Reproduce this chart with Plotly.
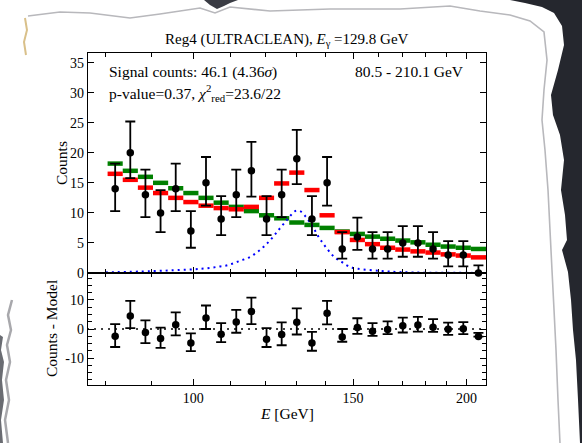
import math
import plotly.graph_objects as go

# ---------------- data ----------------
bin_edges = [80.5, 83.65, 86.92, 90.32, 93.86, 97.53, 101.35, 105.31, 109.43, 113.71,
             118.16, 122.78, 127.58, 132.57, 137.76, 143.15, 148.75, 154.57, 160.62,
             166.90, 173.43, 180.21, 187.26, 194.58, 202.19, 210.1]
counts = [14, 20, 13, 10, 14, 7, 15, 9, 13, 17, 9, 13, 19, 9, 15, 4, 6, 4, 4, 5, 5, 4, 3, 3, 0]
err_up = [4.2, 5.2, 4.2, 3.8, 4.2, 3.3, 4.3, 3.8, 4.2, 4.8, 3.8, 4.2, 4.8, 3.8, 4.3,
          2.8, 3.2, 2.8, 2.8, 2.8, 2.8, 2.8, 2.3, 2.3, 1.26]
err_dn = [3.7, 4.2, 3.7, 3.2, 3.7, 2.8, 3.8, 2.7, 3.7, 4.3, 2.7, 3.7, 4.2, 2.7, 3.8,
          1.6, 2.15, 1.6, 1.6, 2.3, 2.3, 1.6, 1.9, 1.9, 0.0]
model_bkg = [18.2, 17.0, 16.0, 15.0, 14.1, 13.3, 12.5, 11.7, 11.0, 10.3, 9.6, 9.1, 8.4,
             8.0, 7.5, 6.9, 6.5, 6.05, 5.7, 5.4, 5.1, 4.7, 4.4, 4.2, 4.0]
model_tot = [16.5, 15.5, 14.2, 13.3, 12.5, 11.8, 11.2, 10.8, 10.6, 11.0, 12.5, 14.9, 16.7,
             13.8, 9.6, 6.8, 5.5, 4.8, 4.2, 3.9, 3.6, 3.4, 3.1, 2.9, 2.6]
sig_E = [80.1, 89.8, 96.8, 100.2, 101.9, 103.6, 105.3, 107.1, 108.8, 110.4, 112.2, 113.8,
         115.6, 117.2, 118.8, 120.2, 121.5, 122.9, 124.1, 125.5, 126.8, 128.1, 129.5,
         131.1, 132.8, 134.2, 135.4, 136.5, 137.7, 138.9, 140.3, 141.7, 143.4, 145.3,
         147.3, 149.7, 151.9, 160.5, 168.7, 182.0, 210.0]
sig_counts = [0.1, 0.3, 0.5, 0.6, 0.7, 0.8, 0.93, 1.1, 1.26, 1.54, 1.93, 2.26, 2.7, 3.3,
              3.97, 4.7, 5.4, 6.3, 7.1, 8.0, 8.8, 9.6, 10.3, 10.3, 9.5, 8.6, 7.7, 6.8,
              5.8, 5.0, 4.1, 3.3, 2.5, 1.98, 1.37, 0.88, 0.7, 0.35, 0.15, 0.05, 0.02]
x_major = [100, 150, 200]
x_minor = [80, 90, 110, 120, 130, 140, 160, 170, 180, 190]

title_txt = "Reg4 (ULTRACLEAN), <i>E</i><sub>γ</sub> =129.8 GeV"
sig_txt = "Signal counts: 46.1 (4.36<i>σ</i>)"
pval_txt = "p-value=0.37, <i>χ</i><sup>2</sup><sub>red</sub>=23.6/22"
range_txt = "80.5 - 210.1 GeV"

# ---------------- layout geometry (pixels) ----------------
W, H = 582, 443
L, R, T, B = 88, 486, 53, 385
SPLIT = 273
FONT = "Liberation Serif"
TXT = 15.5
TICK = 14


def px(x):
    return (x - L) / (R - L)


def py(y):
    return (B - y) / (B - T)


centers = [math.sqrt(bin_edges[i] * bin_edges[i + 1]) for i in range(len(counts))]
resid = [c - m for c, m in zip(counts, model_tot)]


def steps(vals):
    xs, ys = [], []
    for i, v in enumerate(vals):
        xs += [bin_edges[i], bin_edges[i + 1], None]
        ys += [v, v, None]
    return xs, ys


fig = go.Figure()

gx, gy = steps(model_bkg)
fig.add_trace(go.Scatter(x=gx, y=gy, mode="lines", line=dict(color="#008000", width=4.5),
                         xaxis="x", yaxis="y", hoverinfo="skip"))
rx, ry = steps(model_tot)
fig.add_trace(go.Scatter(x=rx, y=ry, mode="lines", line=dict(color="#ff0000", width=4.5),
                         xaxis="x", yaxis="y", hoverinfo="skip"))
fig.add_trace(go.Scatter(x=sig_E, y=sig_counts, mode="lines", line_shape="spline",
                         line=dict(color="#0000ff", width=2, dash="2px,4px"),
                         xaxis="x", yaxis="y"))
fig.add_trace(go.Scatter(x=centers, y=counts, mode="markers",
                         marker=dict(color="black", size=7.5),
                         error_y=dict(type="data", array=err_up, arrayminus=err_dn,
                                      color="black", thickness=1.8, width=5),
                         xaxis="x", yaxis="y", cliponaxis=False))

# lower panel
fig.add_trace(go.Scatter(x=[bin_edges[0] * 0.9, bin_edges[-1] * 1.05], y=[0, 0], mode="lines",
                         line=dict(color="black", width=1.5, dash="2px,5px"),
                         xaxis="x2", yaxis="y2"))
fig.add_trace(go.Scatter(x=centers, y=resid, mode="markers",
                         marker=dict(color="black", size=7.5),
                         error_y=dict(type="data", array=err_up, arrayminus=err_dn,
                                      color="black", thickness=1.8, width=5),
                         xaxis="x2", yaxis="y2", cliponaxis=False))

xrange = [math.log10(76.6), math.log10(210.1)]
common_x = dict(type="log", range=xrange, tickvals=x_major, ticktext=[str(v) for v in x_major],
                ticks="inside", ticklen=6, tickwidth=1.2, tickcolor="black",
                minor=dict(tickvals=x_minor, ticks="inside", ticklen=3.5, tickwidth=1.2,
                           tickcolor="black"),
                showline=True, linewidth=1.4, linecolor="black", mirror="allticks",
                showgrid=False, zeroline=False,
                tickfont=dict(family=FONT, size=TICK, color="black"))
split_frac = (B - SPLIT) / (B - T)

fig.update_layout(
    width=W, height=H,
    margin=dict(l=L, r=W - R, t=T, b=H - B),
    paper_bgcolor="white", plot_bgcolor="white",
    showlegend=False,
    font=dict(family=FONT, size=TICK, color="black"),
    xaxis=dict(common_x, domain=[0, 1], anchor="y", showticklabels=False, matches="x2"),
    xaxis2=dict(common_x, domain=[0, 1], anchor="y2"),
    yaxis=dict(domain=[split_frac, 1], anchor="x", range=[0, 36.6], tick0=0, dtick=5,
               ticks="inside", ticklen=6, tickwidth=1.2, tickcolor="black",
               showline=True, linewidth=1.4, linecolor="black", mirror="allticks",
               showgrid=False, zeroline=False,
               tickfont=dict(family=FONT, size=TICK, color="black")),
    yaxis2=dict(domain=[0, split_frac], anchor="x2", range=[-19.3, 19.3],
                tickvals=[-10, 0, 10], ticktext=["-10", "0", "10"],
                ticks="inside", ticklen=6, tickwidth=1.2, tickcolor="black",
                minor=dict(dtick=2.5, tick0=0, ticks="inside", ticklen=3.5, tickwidth=1.2,
                           tickcolor="black"),
                showline=True, linewidth=1.4, linecolor="black", mirror="allticks",
                showgrid=False, zeroline=False,
                tickfont=dict(family=FONT, size=TICK, color="black")),
)

ann = [
    dict(text=title_txt, x=px(287), y=py(40), size=15),
    dict(text=sig_txt, x=px(107), y=py(71.5), xanchor="left", size=TXT),
    dict(text=pval_txt, x=px(107), y=py(93), xanchor="left", size=TXT),
    dict(text=range_txt, x=px(466), y=py(71.5), xanchor="right", size=TXT),
    dict(text="<i>E</i> [GeV]", x=px(287), y=py(413), size=TXT),
    dict(text="Counts", x=px(61), y=py(163), size=TXT, angle=-90),
    dict(text="Counts - Model", x=px(51), y=py(329), size=TXT, angle=-90),
]
for a in ann:
    fig.add_annotation(text=a["text"], x=a["x"], y=a["y"], xref="paper", yref="paper",
                       xanchor=a.get("xanchor", "center"), yanchor="middle",
                       textangle=a.get("angle", 0), showarrow=False,
                       font=dict(family=FONT, size=a["size"], color="black"))

# ---------------- torn-paper decoration ----------------
def path(points, close=True):
    s = "M " + " L ".join(f"{px(x):.4f},{py(y):.4f}" for x, y in points)
    return s + (" Z" if close else "")


dark_right = [(510, 0), (525, 3), (542, 7), (554, 13), (562, 26), (564, 45), (558, 70),
              (551, 95), (553, 115), (560, 135), (564, 160), (561, 190), (565, 215),
              (567, 240), (562, 250), (568, 272), (571, 300), (573, 330), (576, 360),
              (578, 400), (580, 443), (582, 443), (582, 0)]
dark_top = [(204, 0), (210, 5), (217, 9), (224, 6), (230, 3), (238, 0)]
dark_left = [(0, 335), (3, 337), (1, 350), (4, 362), (2, 380), (4, 400), (1, 420), (3, 443), (0, 443)]
grey_edge = [(28, 16), (60, 12), (90, 13), (130, 18), (160, 14), (200, 8), (215, 13),
             (230, 7), (270, 11), (330, 9), (400, 9), (450, 6), (480, 11), (510, 15),
             (530, 21), (544, 32), (547, 60), (544, 90), (542, 120), (545, 150), (548, 190),
             (550, 230), (552, 270), (554, 310), (556, 350), (558, 400), (560, 443)]
grey_left = [(12, 300), (8, 315), (11, 330), (7, 345), (10, 362), (6, 380), (9, 400),
             (5, 420), (8, 443)]
stain = [(25, 18), (27, 30), (24, 42), (26, 55)]

fig.add_shape(type="path", path=path(dark_right), xref="paper", yref="paper",
              fillcolor="#25272e", line=dict(width=0), layer="above")
fig.add_shape(type="path", path=path(dark_top), xref="paper", yref="paper",
              fillcolor="#3a3c44", line=dict(width=0), layer="above")
fig.add_shape(type="path", path=path(dark_left), xref="paper", yref="paper",
              fillcolor="#6a6c72", line=dict(width=0), layer="above")
fig.add_shape(type="path", path=path(grey_edge, close=False), xref="paper", yref="paper",
              line=dict(color="#b8b8bc", width=1.6), layer="above")
fig.add_shape(type="path", path=path(grey_left, close=False), xref="paper", yref="paper",
              line=dict(color="#a8a8ac", width=2.5), layer="above")
fig.add_shape(type="path", path=path(stain, close=False), xref="paper", yref="paper",
              line=dict(color="#d9c08a", width=2), layer="above")

fig.write_html("out.html", config={"displayModeBar": False},
               post_script="document.body.style.margin='0';")
